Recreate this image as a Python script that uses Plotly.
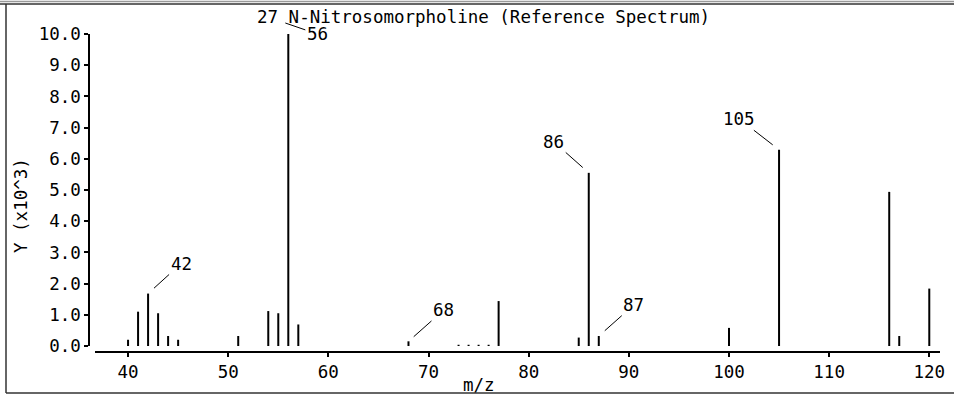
import plotly.graph_objects as go

# ---- data (m/z and intensity in units of 10^3) ----
mz = [40, 41, 42, 43, 44, 45, 51, 54, 55, 56, 57, 68, 73, 74, 75, 76, 77,
      85, 86, 87, 100, 105, 116, 117, 120]
intensity = [0.2, 1.1, 1.68, 1.05, 0.32, 0.2, 0.32, 1.12, 1.05, 10.0, 0.69,
             0.15, 0.04, 0.04, 0.04, 0.04, 1.44, 0.27, 5.55, 0.32, 0.58,
             6.29, 4.94, 0.32, 1.84]
labeled_peaks = [42, 56, 68, 86, 87, 105]
x_ticks = [40, 50, 60, 70, 80, 90, 100, 110, 120]
title_text = "27 N-Nitrosomorpholine (Reference Spectrum)"
x_title = "m/z"
y_title = "Y (x10^3)"

W, H = 954, 396
FONT = "DejaVu Sans Mono"
FS = 17.5

def px(x):
    return x / W

def py(y):
    return 1 - y / H

# stick spectrum built from the data arrays
xs, ys = [], []
for m, v in zip(mz, intensity):
    xs += [m, m, None]
    ys += [0, v, None]

fig = go.Figure()
fig.add_trace(go.Scatter(x=xs, y=ys, mode="lines",
                         line=dict(color="black", width=2),
                         hoverinfo="skip", showlegend=False))

# label placements (pixel offsets of label text from peak top)
label_style = {
    42: dict(ax=33, ay=-30, standoff=8),
    56: dict(ax=32, ay=11, standoff=0, xshift=-3, yshift=11),
    68: dict(ax=35, ay=-31, standoff=7),
    86: dict(ax=-35, ay=-31, standoff=8),
    87: dict(ax=35, ay=-31, standoff=8),
    105: dict(ax=-40, ay=-31, standoff=8),
}
annotations = []
for m in labeled_peaks:
    v = intensity[mz.index(m)]
    st = label_style[m]
    annotations.append(dict(
        x=m, y=v, xref="x", yref="y", text=str(m), showarrow=True,
        arrowhead=0, arrowwidth=1, arrowcolor="black",
        ax=st["ax"], ay=st["ay"], standoff=st["standoff"],
        xshift=st.get("xshift", 0), yshift=st.get("yshift", 0),
        font=dict(family=FONT, size=FS, color="black")))

annotations.append(dict(x=px(484), y=py(17), xref="paper", yref="paper",
                        text=title_text, showarrow=False, xanchor="center",
                        yanchor="middle",
                        font=dict(family=FONT, size=FS, color="black")))
annotations.append(dict(x=px(479), y=py(385), xref="paper", yref="paper",
                        text=x_title, showarrow=False, xanchor="center",
                        yanchor="middle",
                        font=dict(family=FONT, size=FS, color="black")))
annotations.append(dict(x=px(21), y=py(206), xref="paper", yref="paper",
                        text=y_title, showarrow=False, textangle=-90,
                        xanchor="center", yanchor="middle",
                        font=dict(family=FONT, size=FS, color="black")))

shapes = [
    dict(type="line", xref="paper", yref="paper", x0=px(6), x1=px(6),
         y0=py(4), y1=py(393), line=dict(color="#333", width=1.5)),
    dict(type="line", xref="paper", yref="paper", x0=px(6), x1=1.01,
         y0=py(393), y1=py(393), line=dict(color="#333", width=1.5)),
    dict(type="line", xref="paper", yref="paper", x0=0, x1=1.01,
         y0=py(1.5), y1=py(1.5), line=dict(color="#999", width=1.5)),
    dict(type="line", xref="paper", yref="paper", x0=0, x1=1.01,
         y0=py(4), y1=py(4), line=dict(color="#333", width=1.5)),
]

fig.update_layout(
    width=W, height=H,
    margin=dict(l=0, r=0, t=0, b=0),
    paper_bgcolor="white", plot_bgcolor="white",
    showlegend=False,
    font=dict(family=FONT, size=FS, color="black"),
    xaxis=dict(domain=[px(95), px(940)], range=[36.7, 121.07],
               anchor="free", position=py(351.5),
               showline=True, linewidth=2, linecolor="black",
               ticks="outside", ticklen=4, tickwidth=1.5, tickcolor="black",
               tickvals=x_ticks, showgrid=False, zeroline=False,
               automargin=False,
               tickfont=dict(family=FONT, size=FS, color="black")),
    yaxis=dict(domain=[py(346), py(34)], range=[0, 10],
               anchor="free", position=px(89.3),
               showline=True, linewidth=2, linecolor="black",
               ticks="outside", ticklen=4, tickwidth=1.5, tickcolor="black",
               dtick=1, tick0=0, tickformat=".1f",
               showgrid=False, zeroline=False, automargin=False,
               tickfont=dict(family=FONT, size=FS, color="black")),
    annotations=annotations,
    shapes=shapes,
)

fig.write_html("out.html",
               config={"displayModeBar": False},
               post_script="document.body.style.margin='0';"
                           "document.body.style.overflow='hidden';")
